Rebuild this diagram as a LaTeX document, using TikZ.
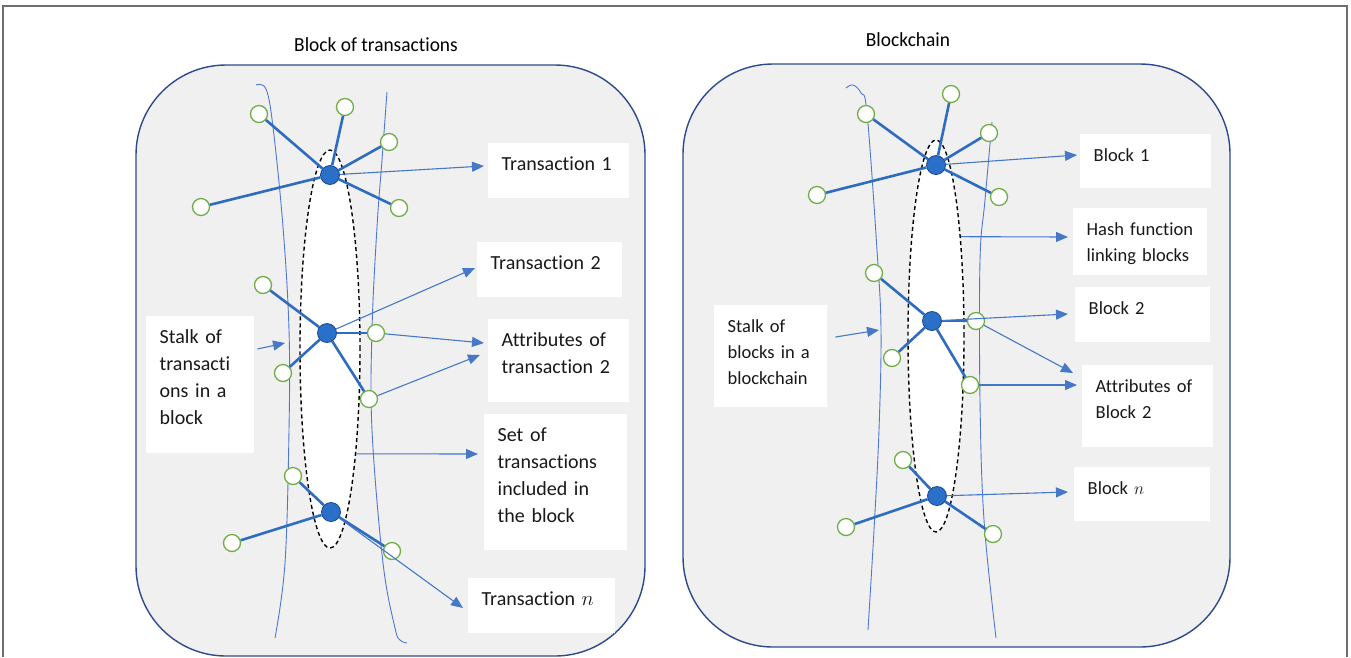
\documentclass[tikz,border=0pt]{standalone}
\usepackage{fontspec}
\setmainfont{Carlito}[Ligatures=NoCommon]
\usetikzlibrary{arrows.meta,shapes.geometric,calc}

\definecolor{panelfill}{RGB}{240,240,240}
\definecolor{paneledge}{RGB}{47,74,140}
\definecolor{linkblue}{RGB}{46,108,194}
\definecolor{arrblue}{RGB}{70,120,200}
\definecolor{stalkblue}{RGB}{80,120,210}
\definecolor{dotblue}{RGB}{42,112,200}
\definecolor{dotedge}{RGB}{30,70,140}
\definecolor{satgreen}{RGB}{112,173,71}
\definecolor{framegray}{RGB}{110,110,110}

\tikzset{
  panel/.style={fill=panelfill, draw=paneledge, line width=1.4pt, rounded corners=90pt},
  stalk/.style={draw=stalkblue, line width=0.9pt},
  setell/.style={ellipse, draw=black, dashed, dash pattern=on 4pt off 3pt, line width=1.4pt, fill=white, inner sep=0pt},
  tbox/.style={fill=white, anchor=north west, inner xsep=13.5pt, inner ysep=6pt, text height=21pt, align=left, text=black!90},
  lfont/.style={font=\fontsize{20}{27}\selectfont},
  rfont/.style={font=\fontsize{18.5}{26}\selectfont},
  title/.style={font=\fontsize{20}{24}\selectfont, xscale=0.97},
  dot/.style={circle, draw=dotedge, line width=0.8pt, fill=dotblue, minimum size=19pt, inner sep=0pt},
  sat/.style={circle, draw=satgreen, line width=1.3pt, fill=white, minimum size=17pt, inner sep=0pt},
  link/.style={draw=linkblue, line width=2.6pt},
  arr/.style={draw=arrblue, line width=1.1pt, -{Triangle[length=12pt,width=10pt]}}
}

\begin{document}
\begin{tikzpicture}[x=1pt,y=-1pt]
  \useasboundingbox (0,0) rectangle (1351,657);
  \draw[framegray, line width=1.3pt] (3,657) -- (3,6) -- (1347,6) -- (1347,657);

  % panels
  \draw[panel] (136,65) rectangle (645,656);
  \draw[panel] (683,64) rectangle (1230,647);
  \node[title] (ttlL) at (376,45) {Block of transactions};
  \node[title] (ttlR) at (908,40) {Blockchain};

  % stalks
  \draw[stalk] plot[smooth, tension=0.6] coordinates {(256,85) (266,89) (273,127) (283,227) (289,330) (289,430) (285,563) (275,638)};
  \draw[stalk] plot[smooth, tension=0.6] coordinates {(387,92) (382,160) (377,227) (372,330) (372,430) (383,563) (395,628) (400,640) (407,643)};
  \draw[stalk] plot[smooth, tension=0.6] coordinates {(846,88) (853,85) (861,93) (867,113) (877,250) (881,330) (879,430) (874,530) (868,630)};
  \draw[stalk] plot[smooth, tension=0.6] coordinates {(992,122) (985,200) (980,260) (980,400) (984,520) (996,638)};
  \coordinate (stalkT) at (285,343);
  \coordinate (stalkB) at (879,330);

  % sets
  \node[setell, minimum width=60pt, minimum height=398pt] (setL) at (330,349) {};
  \node[setell, minimum width=56pt, minimum height=392pt] (setR) at (936,336) {};

  % labels, left
  \node[tbox, lfont, text width=114pt, text depth=22pt] (boxT1) at (488,143) {Transaction 1};
  \node[tbox, lfont, text width=118pt, text depth=22pt] (boxT2) at (477,242) {Transaction 2};
  \node[tbox, lfont, text width=114pt, text depth=50pt] (boxAttrT) at (488,319) {Attributes of\\transaction 2};
  \node[tbox, lfont, text width=116pt, text depth=103pt] (boxSet) at (484,414) {Set of\\transactions\\included in\\the block};
  \node[tbox, lfont, text width=120pt, text depth=22pt] (boxTn) at (468,578) {Transaction $n$};
  \node[tbox, lfont, text width=81pt, text depth=104pt] (boxStalkT) at (146,316) {Stalk of\\transacti\\ons in a\\block};

  % labels, right
  \node[tbox, rfont, text width=104pt, text depth=21pt] (boxB1) at (1080,134) {Block 1};
  \node[tbox, rfont, text width=107pt, text depth=34pt] (boxHash) at (1073,208) {Hash~function\\linking~blocks};
  \node[tbox, rfont, text width=108pt, text depth=22pt] (boxB2) at (1075,287) {Block 2};
  \node[tbox, rfont, text width=104pt, text depth=49pt] (boxAttrB) at (1082,365) {Attributes~of\\Block 2};
  \node[tbox, rfont, text width=109pt, text depth=21pt] (boxBn) at (1074,467) {Block $n$};
  \node[tbox, rfont, text width=86pt, text depth=69pt] (boxStalkB) at (714,305) {Stalk of\\blocks in a\\blockchain};

  % transactions
  \node[dot] (t1) at (330,175) {};
  \node[dot] (t2) at (327,333) {};
  \node[dot] (t3) at (331,512) {};
  \foreach \n/\x/\y in {a/259/114, b/345/107, c/389/142, d/399/208, e/201/207}
    \node[sat] (t1\n) at (\x,\y) {};
  \foreach \n/\x/\y in {a/263/285, b/376/333, c/283/373, d/369/399}
    \node[sat] (t2\n) at (\x,\y) {};
  \foreach \n/\x/\y in {a/293/476, b/232/543, c/392/551}
    \node[sat] (t3\n) at (\x,\y) {};

  % blocks
  \node[dot] (b1) at (936,165) {};
  \node[dot] (b2) at (932,321) {};
  \node[dot] (b3) at (937,496) {};
  \foreach \n/\x/\y in {a/866/114, b/951/94, c/989/133, d/999/197, e/817/195}
    \node[sat] (b1\n) at (\x,\y) {};
  \foreach \n/\x/\y in {a/874/273, b/976/321, c/892/358, d/970/385}
    \node[sat] (b2\n) at (\x,\y) {};
  \foreach \n/\x/\y in {a/903/460, b/846/527, c/993/534}
    \node[sat] (b3\n) at (\x,\y) {};

  \foreach \s in {a,b,c,d,e} {
    \draw[link] (t1) -- (t1\s);
    \draw[link] (b1) -- (b1\s);
  }
  \foreach \s in {a,b,c,d} {
    \draw[link] (t2) -- (t2\s);
    \draw[link] (b2) -- (b2\s);
  }
  \foreach \s in {a,b,c} {
    \draw[link] (t3) -- (t3\s);
    \draw[link] (b3) -- (b3\s);
  }

  % arrows, left
  \draw[arr] (t1) -- ($(boxT1.north west)+(-4,23)$);
  \draw[arr] (t2) -- ($(boxT2.north west)+(-2,26)$);
  \draw[arr] (t2b) -- ($(boxAttrT.north west)+(-4,24)$);
  \draw[arr] (t2d) -- ($(boxAttrT.north west)+(-8,36)$);
  \draw[arr] (setL.-76) -- ($(boxSet.north west)+(-6,40)$);
  \draw[arr] (t3) -- ($(boxTn.north west)+(-5,30)$);
  \draw[arr] ($(boxStalkT.north east)+(3,33)$) -- (stalkT);

  % arrows, right
  \draw[arr] (b1) -- ($(boxB1.north west)+(-3,21)$);
  \draw[arr] (setR.76) -- ($(boxHash.north west)+(-5,29)$);
  \draw[arr] (b2) -- ($(boxB2.north west)+(-7,27)$);
  \draw[arr] (b2b) -- ($(boxAttrB.north west)+(-9,8)$);
  \draw[arr] (b2d) -- ($(boxAttrB.north west)+(-5,20)$);
  \draw[arr] (b3) -- ($(boxBn.north west)+(-6,25)$);
  \draw[arr] ($(boxStalkB.north east)+(8,32)$) -- (stalkB);
\end{tikzpicture}
\end{document}
